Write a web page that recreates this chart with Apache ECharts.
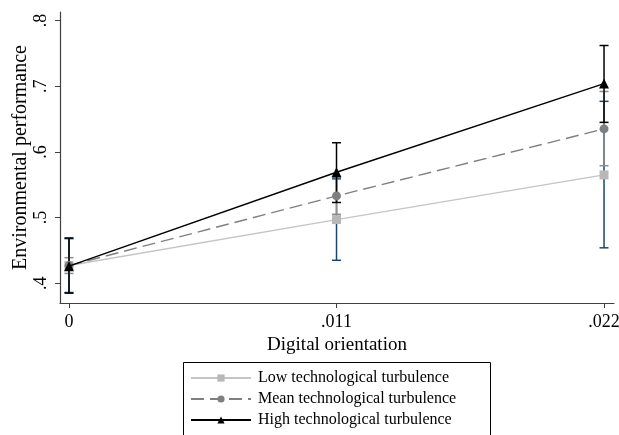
<!DOCTYPE html>
<html lang="en">
<head>
    <meta charset="UTF-8">
    <title>Environmental performance</title>
    <script src="https://cdn.jsdelivr.net/npm/echarts@6/dist/echarts.min.js"></script>
    <style>
        html, body { margin: 0; padding: 0; background: #fff; }
        #chart { width: 619px; height: 435px; }
    </style>
</head>
<body>
    <div id="chart"></div>
    <script>
        // x positions (digital orientation)
        var xVals = [0, 0.011, 0.022];
        var xTicks = [0, 0.011, 0.022];
        var yTicks = [0.4, 0.5, 0.6, 0.7, 0.8];

        var seriesNames = ['Low technological turbulence', 'Mean technological turbulence', 'High technological turbulence'];

        // margins + CI bounds
        var lowMean = [0.427, 0.497, 0.565];
        var lowLo = [0.386, 0.435, 0.454];
        var lowHi = [0.468, 0.559, 0.677];

        var meanMean = [0.427, 0.533, 0.635];
        var meanLo = [0.415, 0.505, 0.579];
        var meanHi = [0.439, 0.561, 0.692];

        var highMean = [0.426, 0.569, 0.704];
        var highLo = [0.385, 0.523, 0.645];
        var highHi = [0.469, 0.614, 0.762];

        var FONT = 'Liberation Serif';

        function fmt(v) {
            if (v === 0) return '0';
            return String(v).replace(/^0\./, '.');
        }

        function pairs(ys) {
            return xVals.map(function (x, i) { return [x, ys[i]]; });
        }

        function ciData(lo, hi) {
            return xVals.map(function (x, i) { return [x, lo[i], hi[i]]; });
        }

        // rcap style error bars
        function ciSeries(lo, hi, color) {
            return {
                type: 'custom',
                silent: true,
                data: ciData(lo, hi),
                encode: { x: 0, y: [1, 2] },
                z: 2,
                renderItem: function (params, api) {
                    var x = api.value(0);
                    var a = api.coord([x, api.value(1)]);
                    var b = api.coord([x, api.value(2)]);
                    var w = 4.5;
                    var st = { stroke: color, lineWidth: 1.5 };
                    return {
                        type: 'group',
                        children: [
                            { type: 'line', shape: { x1: a[0], y1: a[1], x2: b[0], y2: b[1] }, style: st },
                            { type: 'line', shape: { x1: a[0] - w, y1: a[1], x2: a[0] + w, y2: a[1] }, style: st },
                            { type: 'line', shape: { x1: b[0] - w, y1: b[1], x2: b[0] + w, y2: b[1] }, style: st }
                        ]
                    };
                }
            };
        }

        var myChart = echarts.init(document.getElementById('chart'), null, { renderer: 'canvas' });

        var option = {
            backgroundColor: '#fff',
            animation: false,
            textStyle: { fontFamily: FONT },
            grid: { left: 60, right: 5, top: 12, bottom: 132, outerBoundsMode: 'none' },
            // legend frame (bottom edge runs off the picture)
            graphic: [{
                type: 'rect',
                left: 181,
                top: 360,
                shape: { width: 307, height: 100 },
                style: { fill: 'none', stroke: '#000', lineWidth: 1 },
                silent: true
            }],
            xAxis: {
                type: 'value',
                min: -0.00037,
                max: 0.02241,
                name: 'Digital orientation',
                nameLocation: 'middle',
                nameGap: 30,
                nameTextStyle: { fontFamily: FONT, fontSize: 19, color: '#000' },
                axisLine: { onZero: false, lineStyle: { color: '#404040', width: 1.2 } },
                axisTick: { customValues: xTicks, length: 5, lineStyle: { color: '#404040' } },
                axisLabel: {
                    customValues: xTicks,
                    formatter: fmt,
                    margin: 10,
                    fontFamily: FONT,
                    fontSize: 18,
                    color: '#000'
                },
                splitLine: { show: false }
            },
            yAxis: {
                type: 'value',
                min: 0.37,
                max: 0.813,
                name: 'Environmental performance',
                nameLocation: 'middle',
                nameGap: 29,
                nameMoveOverlap: false,
                nameTextStyle: { fontFamily: FONT, fontSize: 20, color: '#000' },
                axisLine: { show: true, onZero: false, lineStyle: { color: '#404040', width: 1.2 } },
                axisTick: { show: true, customValues: yTicks, length: 5, lineStyle: { color: '#404040' } },
                axisLabel: {
                    customValues: yTicks,
                    formatter: fmt,
                    rotate: 90,
                    margin: 10,
                    fontFamily: FONT,
                    fontSize: 18,
                    color: '#000'
                },
                splitLine: { show: false }
            },
            legend: {
                data: seriesNames,
                orient: 'vertical',
                left: 183,
                top: 362,
                padding: [8, 33, 0, 7],
                itemGap: 5,
                itemWidth: 60,
                itemHeight: 9,
                textStyle: { fontFamily: FONT, fontSize: 16, color: '#000', lineHeight: 16, padding: [0, 0, 0, 2] }
            },
            series: [
                ciSeries(lowLo, lowHi, '#1a476f'),
                ciSeries(meanLo, meanHi, '#8c8c8c'),
                ciSeries(highLo, highHi, '#000000'),
                {
                    name: seriesNames[0],
                    type: 'line',
                    data: pairs(lowMean),
                    z: 3,
                    symbol: 'rect',
                    symbolSize: 9,
                    itemStyle: { color: '#b8b8b8' },
                    lineStyle: { color: '#c4c4c4', width: 1.4 }
                },
                {
                    name: seriesNames[1],
                    type: 'line',
                    data: pairs(meanMean),
                    z: 4,
                    symbol: 'circle',
                    symbolSize: 9,
                    itemStyle: { color: '#7f7f7f' },
                    lineStyle: { color: '#7f7f7f', width: 1.4, type: [13, 6] }
                },
                {
                    name: seriesNames[2],
                    type: 'line',
                    data: pairs(highMean),
                    z: 5,
                    symbol: 'triangle',
                    symbolSize: 10,
                    itemStyle: { color: '#000' },
                    lineStyle: { color: '#000', width: 1.4 }
                }
            ]
        };

        myChart.setOption(option);
    </script>
</body>
</html>
